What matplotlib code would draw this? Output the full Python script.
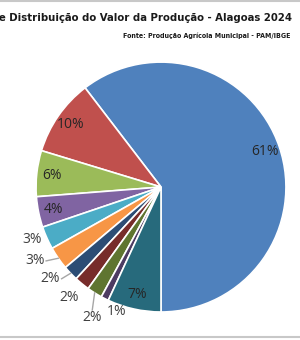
import numpy as np
import matplotlib.pyplot as plt
import matplotlib.font_manager as fm
from matplotlib.lines import Line2D

# valores (%)
culturas = ['Cana-de-açúcar', 'Cultura 2', 'Cultura 3', 'Cultura 4', 'Cultura 5', 'Cultura 6',
            'Cultura 7', 'Cultura 8', 'Cultura 9', 'Cultura 10', 'Outras']
valores = [61, 10, 6, 4, 3, 3, 2, 2, 2, 1, 7]
cores = ['#4F81BD', '#C0504D', '#9BBB59', '#8064A2', '#4BACC6', '#F79646',
         '#2C4D75', '#772C2A', '#5F7530', '#4D3B62', '#276A7C']
rotulos = [f'{v}%' for v in valores]

# rótulos fora da fatia: (raio, deslocamento do ângulo, linha guia)
fora = {4: (1.11, -2, False), 5: (1.17, -4.4, True), 6: (1.15, -4, True),
        7: (1.15, -0.7, False), 8: (1.18, 4.3, True), 9: (1.06, 7.3, False)}

# fonte condensada em negrito para o título (DejaVu Sans Condensed, se houver)
cond = [f for f in fm.fontManager.ttflist
        if (f.stretch in ('condensed', 'semi-condensed', 'extra-condensed')
            or 'Narrow' in f.name or 'Condensed' in f.name)]
cond_bold = [f for f in cond if f.weight in ('bold', 700, 'semibold', 600)]
escolha = (cond_bold or cond)
if escolha:
    fp_tit = fm.FontProperties(fname=escolha[0].fname)
else:
    fp_tit = fm.FontProperties(family='DejaVu Sans', weight='bold')

fig = plt.figure(figsize=(3.0, 3.4), dpi=100)
ax = fig.add_axes([0.12, 0.0824, 0.8333, 0.735])

wedges, _ = ax.pie(valores, colors=cores, startangle=270, counterclock=True,
                   wedgeprops=dict(edgecolor='white', linewidth=1.2))
ax.set_xlim(-1, 1)
ax.set_ylim(-1, 1)
ax.set_aspect('equal')
ax.axis('off')

fonte = ['Open Sans', 'DejaVu Sans']
for i, w in enumerate(wedges):
    meio = (w.theta1 + w.theta2) / 2
    if i in fora:
        r, d, guia = fora[i]
        a = np.deg2rad(meio + d)
        x, y = r * np.cos(a), r * np.sin(a)
        ax.text(x, y, rotulos[i], ha='center', va='center', fontsize=10,
                color='#404040', family=fonte)
        if guia:
            b = np.deg2rad(meio)
            if i == 8:
                x0, y0 = x, y + 0.06
            else:
                x0, y0 = x + 0.09, y
            ax.add_line(Line2D([x0, np.cos(b)], [y0, np.sin(b)],
                               color='#a6a6a6', lw=1, clip_on=False))
    else:
        a = np.deg2rad(meio)
        ax.text(0.88 * np.cos(a), 0.88 * np.sin(a), rotulos[i], ha='center', va='center',
                fontsize=10, color='#262626', family=fonte)

t1 = fp_tit.copy()
t1.set_size(8.1)
t2 = fp_tit.copy()
t2.set_size(5.0)
fig.text(0.973, 0.947, 'Gráfico de Distribuição do Valor da Produção - Alagoas 2024',
         ha='right', va='center', fontproperties=t1, color='#1a1a1a')
fig.text(0.967, 0.894, 'Fonte: Produção Agrícola Municipal - PAM/IBGE',
         ha='right', va='center', fontproperties=t2, color='#1a1a1a')

# linhas cinzas de moldura
fig.add_artist(Line2D([0, 1], [0.998, 0.998], color='#c8c8c8', lw=1.5))
fig.add_artist(Line2D([0, 1], [0.01, 0.01], color='#c8c8c8', lw=1.5))

fig.savefig('out.png', dpi=100)
